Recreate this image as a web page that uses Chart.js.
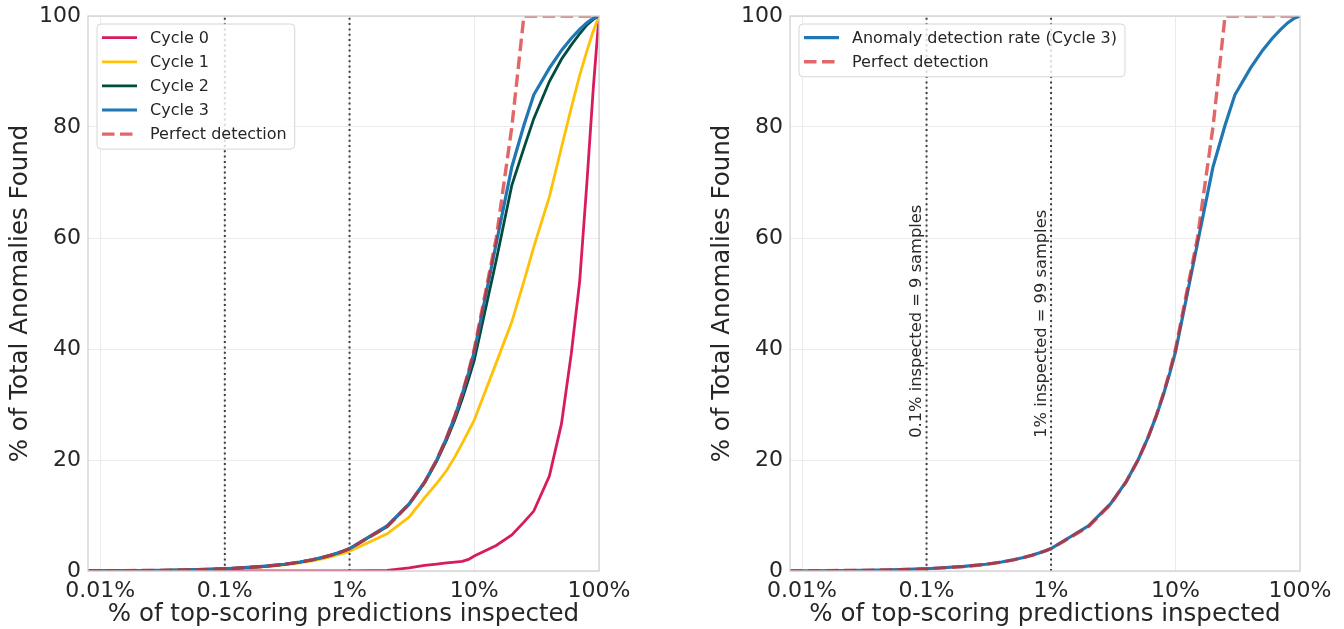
<!DOCTYPE html>
<html>
<head>
<meta charset="utf-8">
<script src="https://cdn.jsdelivr.net/npm/chart.js@4.4.1/dist/chart.umd.min.js"></script>
<style>
  html, body { margin: 0; padding: 0; background: #ffffff; }
  #wrap { position: relative; width: 1344px; height: 629px; overflow: hidden; background: #ffffff; }
  canvas { position: absolute; top: 0; }
  #left { left: 0; }
  #right { left: 702px; }
</style>
</head>
<body>
<div id="wrap">
  <canvas id="left" width="672" height="629"></canvas>
  <canvas id="right" width="642" height="629"></canvas>
</div>
<script>
// % of top-scoring predictions inspected (x positions shared by every curve)
const pctInspected = [
  0.008, 0.01, 0.02, 0.03, 0.04, 0.05, 0.06, 0.07, 0.08, 0.09,
  0.1, 0.2, 0.3, 0.4, 0.5, 0.6, 0.7, 0.8, 0.9,
  1, 2, 3, 4, 5, 6, 7, 8, 9,
  10, 15, 20, 25, 30, 40, 50, 60, 70, 80, 90, 100
];

// % of total anomalies found, per active-learning cycle
const cycle0 = [
  0, 0, 0, 0, 0, 0, 0, 0, 0, 0,
  0, 0.01, 0.01, 0.01, 0.02, 0.02, 0.02, 0.03, 0.03,
  0.04, 0.12, 0.55, 1.0, 1.25, 1.45, 1.6, 1.75, 2.1,
  2.7, 4.6, 6.5, 8.8, 10.8, 17.1, 26.5, 39.2, 52.2, 70.0, 87.0, 100
];
const cycle1 = [
  0.03, 0.04, 0.08, 0.12, 0.16, 0.2, 0.23, 0.27, 0.31, 0.35,
  0.38, 0.76, 1.12, 1.48, 1.84, 2.2, 2.55, 2.9, 3.22,
  3.55, 6.7, 9.7, 13.2, 15.8, 18.1, 20.6, 23.0, 25.2,
  27.2, 37.5, 44.9, 52.2, 58.4, 67.4, 76.3, 83.5, 89.3, 93.7, 97.3, 100
];
const cycle2 = [
  0.03, 0.04, 0.08, 0.12, 0.16, 0.2, 0.24, 0.28, 0.32, 0.36,
  0.4, 0.8, 1.2, 1.6, 2.0, 2.4, 2.8, 3.2, 3.6,
  4.0, 8.0, 12.0, 15.9, 19.8, 23.6, 27.3, 31.0, 34.6,
  38.0, 56.0, 69.5, 76.2, 81.5, 88.2, 92.2, 94.8, 96.8, 98.4, 99.4, 100
];
const cycle3 = [
  0.03, 0.04, 0.08, 0.12, 0.16, 0.2, 0.24, 0.28, 0.33, 0.37,
  0.41, 0.82, 1.22, 1.62, 2.02, 2.42, 2.83, 3.23, 3.63,
  4.05, 8.15, 12.1, 16.05, 20.0, 24.0, 27.9, 31.8, 35.7,
  39.5, 59.0, 72.8, 80.3, 85.8, 90.6, 93.8, 96.0, 97.6, 98.8, 99.6, 100
];
const perfect = [
  0.03, 0.04, 0.08, 0.12, 0.16, 0.2, 0.24, 0.28, 0.32, 0.36,
  0.4, 0.8, 1.2, 1.6, 2.0, 2.4, 2.8, 3.2, 3.6,
  4, 8, 12, 16, 20, 24, 28, 32, 36,
  40, 60, 80, 100, 100, 100, 100, 100, 100, 100, 100, 100
];

// Reference budgets marked with vertical dotted lines
const markerPcts = [0.1, 1];
const markerNotes = ['0.1% inspected = 9 samples', '1% inspected = 99 samples'];
const markerNoteY = 24;

// Axis ticks
const xTickValues = [0.01, 0.1, 1, 10, 100];
const xTickLabels = ['0.01%', '0.1%', '1%', '10%', '100%'];
const yTickValues = [0, 20, 40, 60, 80, 100];

const INK = '#262626';
const FONT = '"DejaVu Sans", sans-serif';
Chart.defaults.font.family = FONT;
Chart.defaults.color = INK;

const toPoints = ys => pctInspected.map((x, i) => ({ x: x, y: ys[i] }));

function lineSet(label, ys, color, width, order, dash) {
  return {
    label: label,
    data: toPoints(ys),
    borderColor: color,
    backgroundColor: color,
    borderWidth: width,
    borderDash: dash || [],
    pointRadius: 0,
    pointHoverRadius: 0,
    tension: 0,
    fill: false,
    clip: 0,
    order: order
  };
}

function markerSets() {
  return markerPcts.map(p => ({
    label: '',
    data: [{ x: p, y: 0 }, { x: p, y: 100 }],
    borderColor: 'rgba(30,30,30,0.85)',
    borderWidth: 2,
    borderDash: [2, 3.3],
    pointRadius: 0,
    pointHoverRadius: 0,
    clip: 0,
    order: 10,
    isMarker: true
  }));
}

// Plot frame drawn on top of the data, like axis spines
const framePlugin = {
  id: 'plotFrame',
  afterDatasetsDraw(chart) {
    const { ctx, chartArea: a } = chart;
    ctx.save();
    ctx.strokeStyle = '#d0d0d0';
    ctx.lineWidth = 1.25;
    ctx.strokeRect(a.left, a.top, a.right - a.left, a.bottom - a.top);
    ctx.restore();
  }
};

// Framed legend inside the top-left corner of the plot
const boxLegendPlugin = {
  id: 'boxLegend',
  afterDraw(chart) {
    const { ctx, chartArea: a } = chart;
    const items = chart.data.datasets
      .filter(d => !d.isMarker)
      .sort((p, q) => p.legendRank - q.legendRank);
    ctx.save();
    ctx.font = '16px ' + FONT;
    const maxW = Math.max(...items.map(d => ctx.measureText(d.label).width));
    const x0 = a.left + 9, y0 = a.top + 8;
    const w = 53 + maxW + 8;
    const rowGap = 24.1;
    const h = 13.7 + (items.length - 1) * rowGap + 15;
    ctx.beginPath();
    ctx.roundRect(x0, y0, w, h, 4);
    ctx.fillStyle = 'rgba(255,255,255,0.8)';
    ctx.fill();
    ctx.strokeStyle = '#d6d6d6';
    ctx.lineWidth = 1;
    ctx.stroke();
    items.forEach((d, i) => {
      const cy = y0 + 13.7 + i * rowGap;
      ctx.beginPath();
      ctx.setLineDash(d.borderDash || []);
      ctx.strokeStyle = d.borderColor;
      ctx.lineWidth = d.borderWidth;
      ctx.moveTo(x0 + 5, cy);
      ctx.lineTo(x0 + 40, cy);
      ctx.stroke();
      ctx.setLineDash([]);
      ctx.fillStyle = INK;
      ctx.textAlign = 'left';
      ctx.textBaseline = 'middle';
      ctx.fillText(d.label, x0 + 53, cy + 1);
    });
    ctx.restore();
  }
};

// Rotated notes beside the dotted budget lines
const markerNotePlugin = {
  id: 'markerNotes',
  afterDatasetsDraw(chart) {
    const { ctx } = chart;
    const xs = chart.scales.x, ys = chart.scales.y;
    ctx.save();
    ctx.font = '16.3px ' + FONT;
    ctx.fillStyle = '#2a2a2a';
    markerPcts.forEach((p, i) => {
      const px = xs.getPixelForValue(p) - 5.5;
      const py = ys.getPixelForValue(markerNoteY);
      ctx.save();
      ctx.translate(px, py);
      ctx.rotate(-Math.PI / 2);
      ctx.textAlign = 'left';
      ctx.textBaseline = 'alphabetic';
      ctx.fillText(markerNotes[i], 0, 0);
      ctx.restore();
    });
    ctx.restore();
  }
};

function axesOptions(rightPad) {
  return {
    responsive: false,
    animation: false,
    events: [],
    layout: { padding: { top: 16, right: rightPad, left: 0, bottom: 0 } },
    plugins: { legend: { display: false }, tooltip: { enabled: false } },
    scales: {
      x: {
        type: 'logarithmic',
        min: 0.008,
        max: 100,
        afterBuildTicks: s => { s.ticks = xTickValues.map(v => ({ value: v })); },
        afterFit: s => { s.height = 58; s.paddingLeft = 0; s.paddingRight = 0; },
        ticks: {
          autoSkip: false,
          maxRotation: 0,
          padding: 7,
          color: INK,
          font: { size: 22 },
          callback: (v) => xTickLabels[xTickValues.indexOf(v)]
        },
        grid: { color: '#ebebeb', lineWidth: 1, drawTicks: false },
        border: { display: false },
        title: {
          display: true,
          text: '% of top-scoring predictions inspected',
          color: INK,
          font: { size: 24.5 },
          padding: { top: 0, bottom: 0 }
        }
      },
      y: {
        type: 'linear',
        min: 0,
        max: 100,
        afterBuildTicks: s => { s.ticks = yTickValues.map(v => ({ value: v })); },
        afterFit: s => { s.width = 88; s.paddingTop = 0; s.paddingBottom = 0; },
        ticks: { padding: 7, color: INK, font: { size: 22 } },
        grid: { color: '#ebebeb', lineWidth: 1, drawTicks: false },
        border: { display: false },
        title: {
          display: true,
          text: '% of Total Anomalies Found',
          color: INK,
          font: { size: 24.5 },
          padding: { top: 6, bottom: 0 }
        }
      }
    }
  };
}

const COLORS = {
  c0: '#D81B60',
  c1: '#FFC107',
  c2: '#004D40',
  c3: '#1F77B4',
  perfect: 'rgba(214,39,40,0.7)'
};

// Left panel: all cycles
const leftSets = [
  Object.assign(lineSet('Perfect detection', perfect, COLORS.perfect, 3.4, 0, [12.5, 5.5]), { legendRank: 4 }),
  Object.assign(lineSet('Cycle 3', cycle3, COLORS.c3, 3.2, 1), { legendRank: 3 }),
  Object.assign(lineSet('Cycle 2', cycle2, COLORS.c2, 2.8, 2), { legendRank: 2 }),
  Object.assign(lineSet('Cycle 1', cycle1, COLORS.c1, 2.8, 3), { legendRank: 1 }),
  Object.assign(lineSet('Cycle 0', cycle0, COLORS.c0, 2.8, 4), { legendRank: 0 })
].concat(markerSets());

new Chart(document.getElementById('left'), {
  type: 'line',
  data: { datasets: leftSets },
  options: axesOptions(73),
  plugins: [framePlugin, boxLegendPlugin]
});

// Right panel: latest cycle with annotated budgets
const rightSets = [
  Object.assign(lineSet('Perfect detection', perfect, COLORS.perfect, 3.4, 0, [12.5, 5.5]), { legendRank: 1 }),
  Object.assign(lineSet('Anomaly detection rate (Cycle 3)', cycle3, COLORS.c3, 3.2, 1), { legendRank: 0 })
].concat(markerSets());

new Chart(document.getElementById('right'), {
  type: 'line',
  data: { datasets: rightSets },
  options: axesOptions(44),
  plugins: [framePlugin, markerNotePlugin, boxLegendPlugin]
});
</script>
</body>
</html>
